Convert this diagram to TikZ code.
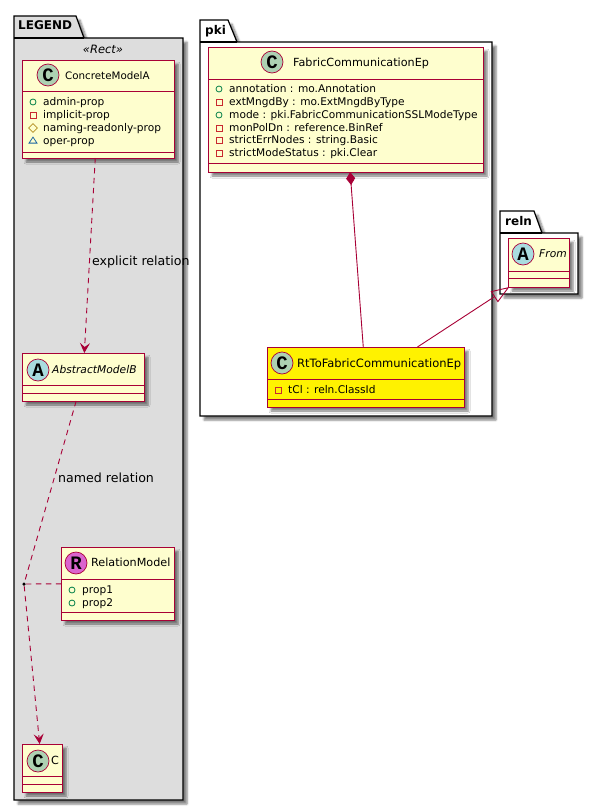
\documentclass[tikz,border=0pt]{standalone}
\usepackage{fontspec}
\setmainfont{DejaVu Sans}
\newfontfamily\badgefont{Liberation Mono}
\usepackage{xcolor}
\definecolor{umlred}{RGB}{168,0,54}
\definecolor{umlcream}{RGB}{254,254,206}
\definecolor{umlgreen}{RGB}{173,209,178}
\definecolor{umlcyan}{RGB}{169,220,223}
\definecolor{umlpink}{RGB}{218,100,206}
\definecolor{pkggrey}{RGB}{221,221,221}
\definecolor{pubgreen}{RGB}{3,128,72}
\definecolor{privred}{RGB}{200,41,48}
\definecolor{protgold}{RGB}{179,141,34}
\definecolor{pkgblue}{RGB}{25,99,160}
\usetikzlibrary{arrows.meta,shadows,shadows.blur,shapes.geometric}
\begin{document}
\begin{tikzpicture}[x=1pt,y=-1pt,
    softshadow/.style={blur shadow={shadow xshift=4pt,shadow yshift=-4pt,shadow blur steps=5,shadow blur radius=2pt,shadow opacity=50}},
    pkg/.style={draw=black, line width=1.2pt, fill=white, softshadow},
    pkgname/.style={anchor=west, inner sep=0pt, text height=9pt, text depth=2pt, font=\fontsize{12}{12}\selectfont\bfseries},
    cls/.style={rectangle, draw=umlred, line width=1pt, fill=umlcream, inner sep=0pt, outer sep=0pt, softshadow},
    sep/.style={umlred, line width=1pt},
    badge/.style={circle, draw=umlred, line width=.7pt, minimum size=22pt, inner sep=0pt, font=\badgefont\fontsize{19}{19}\selectfont\bfseries},
    cname/.style={anchor=west, inner sep=0pt, text height=8pt, text depth=2pt, font=\fontsize{11.2}{12}\selectfont},
    field/.style={anchor=west, inner sep=0pt, text height=8pt, text depth=2pt, font=\fontsize{10.6}{12}\selectfont},
    lbl/.style={anchor=west, inner sep=0pt, text height=8pt, text depth=2pt, font=\fontsize{12.6}{13}\selectfont},
    pub/.style={circle, draw=pubgreen, line width=.8pt, minimum size=6pt, inner sep=0pt},
    priv/.style={rectangle, draw=privred, line width=.8pt, minimum size=6pt, inner sep=0pt},
    prot/.style={diamond, draw=protgold, line width=.8pt, minimum size=9pt, inner sep=0pt},
    pack/.style={isosceles triangle, shape border rotate=90, isosceles triangle stretches, draw=pkgblue, line width=.8pt, minimum width=8pt, minimum height=6pt, inner sep=0pt},
    rel/.style={umlred, line width=.9pt},
    dep/.style={rel, dash pattern=on 5.5pt off 4.5pt},
    opentip/.style={-{Stealth[length=10pt,width=10pt,inset=4pt]}}
  ]
    \useasboundingbox (0,0) rectangle (599,811);
    % packages
    \path[pkg, fill=pkggrey] (14,38) -- (14,16) -- (76,16) -- (84,38) -- (183,38) -- (183,800) -- (14,800) -- cycle;
    \draw[line width=1.2pt] (14,38) -- (84,38);
    \node[pkgname] (legendname) at (18,26) {LEGEND};
    \path[pkg] (200,42) -- (200,20) -- (228,20) -- (237,42) -- (492,42) -- (492,416) -- (200,416) -- cycle;
    \draw[line width=1.2pt] (200,42) -- (237,42);
    \node[pkgname] (pkiname) at (205,31) {pki};
    \path[pkg] (500,233) -- (500,211) -- (534,211) -- (542,233) -- (578,233) -- (578,294) -- (500,294) -- cycle;
    \draw[line width=1.2pt] (500,233) -- (542,233);
    \node[pkgname] (relnname) at (505,222) {reln};
    \node[inner sep=0pt, font=\fontsize{11.5}{12}\selectfont\itshape] (stereo) at (103,49) {«Rect»};
    % classes
    \node[cls, minimum width=152pt, minimum height=98pt] (clsa) at (98,109) {};
    \node[cls, minimum width=122pt, minimum height=48pt] (absb) at (83,377) {};
    \node[cls, minimum width=113pt, minimum height=73pt] (relm) at (117.5,583.5) {};
    \node[cls, minimum width=40pt, minimum height=48pt] (clsc) at (42,768) {};
    \node[cls, minimum width=275pt, minimum height=125pt] (fab) at (345.5,109.5) {};
    \node[cls, fill=yellow, minimum width=197pt, minimum height=60pt] (rtfab) at (365.5,377) {};
    \node[cls, minimum width=61pt, minimum height=49pt] (from) at (538.5,262.5) {};
    \foreach \n/\ya/\yb in {clsa/91/152, absb/385/393, relm/579/612, clsc/776/784, fab/79/163, rtfab/379/399, from/271/278}
      \draw[sep] (\n.west |- 0,\ya) -- (\n.east |- 0,\ya) (\n.west |- 0,\yb) -- (\n.east |- 0,\yb);
    % badges and names
    \node[badge, fill=umlgreen] (clsab) at (48,75) {C};
    \node[cname, font=\fontsize{10.3}{12}\selectfont] (clsat) at (65,76) {ConcreteModelA};
    \node[badge, fill=umlcyan] (absbb) at (38,370) {A};
    \node[cname, font=\fontsize{10.7}{12}\selectfont\itshape] (absbt) at (52,370) {AbstractModelB};
    \node[badge, fill=umlpink] (relmb) at (76,563) {R};
    \node[cname] (relmt) at (91,563) {RelationModel};
    \node[badge, fill=umlgreen] (clscb) at (38,761) {C};
    \node[cname] (clsct) at (51,761) {C};
    \node[badge, fill=umlgreen] (fabb) at (272,62) {C};
    \node[cname] (fabt) at (293,63) {FabricCommunicationEp};
    \node[badge, fill=umlgreen] (rtfabb) at (282,363) {C};
    \node[cname, font=\fontsize{11.5}{12}\selectfont] (rtfabt) at (297,364) {RtToFabricCommunicationEp};
    \node[badge, fill=umlcyan] (fromb) at (523,254) {A};
    \node[cname, font=\fontsize{10.7}{12}\selectfont\itshape] (fromt) at (539,254) {From};
    % fields
    \foreach \i/\ypos/\vis/\txt in {1/102/pub/admin-prop, 2/115/priv/implicit-prop, 3/128/prot/naming-readonly-prop, 4/141/pack/oper-prop} {
      \node[\vis] (am\i) at (33,\ypos) {};
      \node[field] (af\i) at (43,\ypos) {\txt};
    }
    \foreach \i/\ypos in {1/590, 2/603} {
      \node[pub] (rm\i) at (72,\ypos) {};
      \node[field] (rf\i) at (82,\ypos) {prop\i};
    }
    \foreach \i/\ypos/\vis/\txt in {1/89/pub/annotation : mo.Annotation, 2/102/priv/extMngdBy : mo.ExtMngdByType, 3/115/pub/mode : pki.FabricCommunicationSSLModeType, 4/128/priv/monPolDn : reference.BinRef, 5/140.5/priv/strictErrNodes : string.Basic, 6/153/priv/strictModeStatus : pki.Clear} {
      \node[\vis] (fm\i) at (219,\ypos) {};
      \node[field] (ff\i) at (229,\ypos) {\txt};
    }
    \node[priv] (rtm) at (278,390) {};
    \node[field] (rtf) at (288,390) {tCl : reln.ClassId};
    % relations
    \node[circle, fill=black, minimum size=3.5pt, inner sep=0pt] (reldot) at (24,584) {};
    \draw[dep, opentip] (clsa) -- (absb);
    \draw[dep] (absb) -- (reldot);
    \draw[dep] (reldot) -- (relm);
    \draw[dep, opentip] (reldot) -- (clsc);
    \draw[rel, {Diamond[length=13pt,width=9pt]}-] (fab) -- (rtfab);
    \draw[rel, {Triangle[open,length=18pt,width=13pt]}-] (from.220) -- (rtfab.30);
    \node[lbl] (explicitlbl) at (92,262) {explicit relation};
    \node[lbl] (namedlbl) at (58,479) {named relation};
\end{tikzpicture}
\end{document}
